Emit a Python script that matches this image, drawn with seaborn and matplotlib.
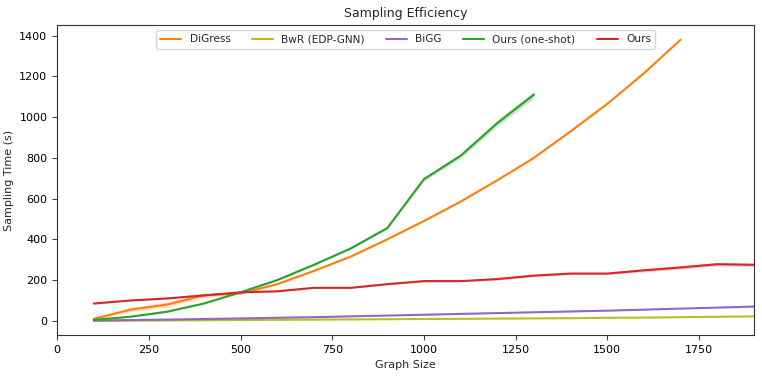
import numpy as np
import pandas as pd
import matplotlib
matplotlib.use("Agg")
import matplotlib.pyplot as plt
import seaborn as sns

sizes_digress = [100, 200, 300, 400, 500, 600, 700, 800, 900, 1000, 1100, 1200, 1300, 1400, 1500, 1600, 1700]
digress = [10, 55, 80, 125, 135, 180, 245, 315, 400, 490, 585, 690, 800, 930, 1065, 1215, 1380]
digress_sd = [5, 10, 12, 10, 6, 4, 3, 3, 3, 3, 3, 3, 3, 3, 3, 3, 3]

sizes_full = [100, 200, 300, 400, 500, 600, 700, 800, 900, 1000, 1100, 1200, 1300, 1400, 1500, 1600, 1700, 1800, 1900]
bwr = [0, 1, 2, 3, 4, 5, 6, 7, 8, 9, 10, 11, 12, 13, 15, 16, 18, 20, 22]
bwr_sd = [1] * 19
bigg = [1, 4, 6, 9, 12, 15, 18, 22, 26, 30, 34, 38, 42, 46, 50, 55, 60, 65, 70]
bigg_sd = [1] * 19

sizes_oneshot = [100, 200, 300, 400, 500, 600, 700, 800, 900, 1000, 1100, 1200, 1300]
oneshot = [5, 20, 45, 85, 140, 200, 275, 355, 455, 695, 810, 970, 1110]
oneshot_sd = [2, 2, 3, 3, 3, 4, 4, 5, 5, 10, 12, 15, 18]

ours = [85, 100, 110, 125, 140, 145, 162, 162, 180, 195, 195, 205, 222, 232, 232, 248, 262, 278, 275]
ours_sd = [3, 3, 3, 3, 3, 3, 3, 3, 4, 4, 4, 5, 5, 5, 5, 8, 8, 8, 8]

methods = ["DiGress", "BwR (EDP-GNN)", "BiGG", "Ours (one-shot)", "Ours"]
colors = ["#ff7f0e", "#bcbd22", "#9467bd", "#2ca02c", "#d62728"]

series = [
    (sizes_digress, digress, digress_sd),
    (sizes_full, bwr, bwr_sd),
    (sizes_full, bigg, bigg_sd),
    (sizes_oneshot, oneshot, oneshot_sd),
    (sizes_full, ours, ours_sd),
]

frames = []
for m, (xs, ys, sd) in zip(methods, series):
    frames.append(pd.DataFrame({"Graph Size": xs, "Sampling Time (s)": ys,
                                "sd": sd, "Method": m}))
df = pd.concat(frames, ignore_index=True)

sns.set_style("ticks")
plt.rcParams["font.family"] = ["DejaVu Sans"]

fig = plt.figure(figsize=(7.62, 3.77), dpi=100)
ax = fig.add_axes([0.075, 0.111, 0.9145, 0.823])

sns.lineplot(data=df, x="Graph Size", y="Sampling Time (s)", hue="Method",
             hue_order=methods, palette=colors, errorbar=None, linewidth=1.5, ax=ax)

for m, c in zip(methods, colors):
    d = df[df["Method"] == m]
    ax.fill_between(d["Graph Size"], d["Sampling Time (s)"] - d["sd"],
                    d["Sampling Time (s)"] + d["sd"], color=c, alpha=0.25, linewidth=0)

ax.set_xlim(0, 1900)
ax.set_xticks([0, 250, 500, 750, 1000, 1250, 1500, 1750])
ax.set_yticks([0, 200, 400, 600, 800, 1000, 1200, 1400])
ax.tick_params(labelsize=8, colors="#444444", labelcolor="black")
ax.set_xlabel("Graph Size", fontsize=8)
ax.set_ylabel("Sampling Time (s)", fontsize=8)
ax.set_title("Sampling Efficiency", fontsize=9)
for s in ax.spines.values():
    s.set_visible(True)
    s.set_color("#333333")

ax.legend(loc="upper center", ncol=5, fontsize=7.6, frameon=True)

fig.savefig("out.png", dpi=100)
